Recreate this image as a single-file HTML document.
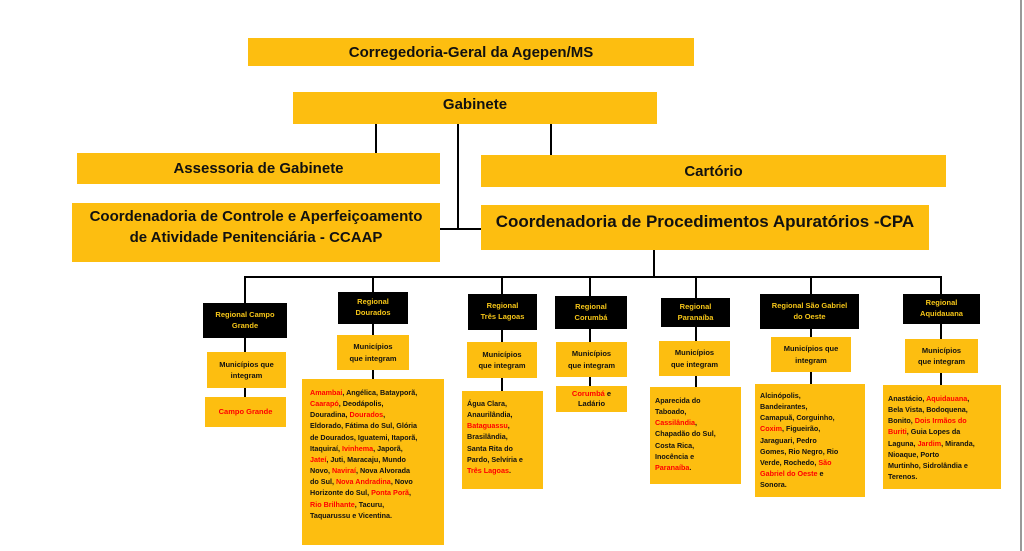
<!DOCTYPE html>
<html><head><meta charset="utf-8"><style>
body{margin:0;width:1024px;height:551px;background:#fff;position:relative;overflow:hidden;font-family:"Liberation Sans",sans-serif;}
.b{position:absolute;background:#FDBE10;display:flex;align-items:center;justify-content:center;text-align:center;color:#111;box-sizing:border-box;}
.k{position:absolute;background:#000;color:#F5C518;display:flex;align-items:center;justify-content:center;text-align:center;font-size:7.5px;font-weight:bold;line-height:1.45;}
.m{font-size:7.5px;font-weight:bold;line-height:1.5;}
.l{position:absolute;background:#000;}
.t{position:absolute;background:#FDBE10;font-size:7.2px;font-weight:bold;line-height:1.55;padding:4px 0 0 5px;box-sizing:border-box;color:#111;}
.r{color:#f00;}
.big{font-size:15px;font-weight:bold;}
</style></head><body>
<div style="position:absolute;left:1020px;top:0;width:2px;height:551px;background:#999"></div>
<!-- lines -->
<div class="l" style="left:375px;top:124px;width:2px;height:29px"></div>
<div class="l" style="left:457px;top:124px;width:2px;height:106px"></div>
<div class="l" style="left:550px;top:124px;width:2px;height:31px"></div>
<div class="l" style="left:440px;top:228px;width:41px;height:2px"></div>
<div class="l" style="left:653px;top:250px;width:2px;height:27px"></div>
<div class="l" style="left:244px;top:276px;width:698px;height:2px"></div>
<div class="l" style="left:244px;top:276px;width:2px;height:121px"></div>
<div class="l" style="left:372px;top:276px;width:2px;height:103px"></div>
<div class="l" style="left:501px;top:276px;width:2px;height:115px"></div>
<div class="l" style="left:589px;top:276px;width:2px;height:110px"></div>
<div class="l" style="left:695px;top:276px;width:2px;height:111px"></div>
<div class="l" style="left:810px;top:276px;width:2px;height:108px"></div>
<div class="l" style="left:940px;top:276px;width:2px;height:109px"></div>
<!-- top boxes -->
<div class="b big" style="left:248px;top:38px;width:446px;height:28px">Corregedoria-Geral da Agepen/MS</div>
<div class="b big" style="left:293px;top:92px;width:364px;height:32px;align-items:flex-start;padding-top:4px">Gabinete</div>
<div class="b big" style="left:77px;top:153px;width:363px;height:31px">Assessoria de Gabinete</div>
<div class="b big" style="left:481px;top:155px;width:465px;height:32px">Cartório</div>
<div class="b big" style="left:72px;top:203px;width:368px;height:59px;line-height:1.4;align-items:flex-start;padding-top:3px">Coordenadoria de Controle e Aperfeiçoamento<br>de Atividade Penitenciária - CCAAP</div>
<div class="b" style="left:481px;top:205px;width:448px;height:45px;font-size:17px;font-weight:bold;align-items:flex-start;padding-top:7px">Coordenadoria de Procedimentos Apuratórios -CPA</div>
<!-- regionals -->
<div class="k" style="left:203px;top:303px;width:84px;height:35px">Regional Campo<br>Grande</div>
<div class="k" style="left:338px;top:292px;width:70px;height:32px">Regional<br>Dourados</div>
<div class="k" style="left:468px;top:294px;width:69px;height:36px">Regional<br>Três Lagoas</div>
<div class="k" style="left:555px;top:296px;width:72px;height:33px">Regional<br>Corumbá</div>
<div class="k" style="left:661px;top:298px;width:69px;height:29px">Regional<br>Paranaíba</div>
<div class="k" style="left:760px;top:294px;width:99px;height:35px">Regional São Gabriel<br>do Oeste</div>
<div class="k" style="left:903px;top:294px;width:77px;height:30px">Regional<br>Aquidauana</div>
<!-- municipios -->
<div class="b m" style="left:207px;top:352px;width:79px;height:36px">Municípios que<br>integram</div>
<div class="b m" style="left:337px;top:335px;width:72px;height:35px">Municípios<br>que integram</div>
<div class="b m" style="left:467px;top:342px;width:70px;height:36px">Municípios<br>que integram</div>
<div class="b m" style="left:556px;top:342px;width:71px;height:35px">Municípios<br>que integram</div>
<div class="b m" style="left:659px;top:341px;width:71px;height:35px">Municípios<br>que integram</div>
<div class="b m" style="left:771px;top:337px;width:80px;height:35px">Municípios que<br>integram</div>
<div class="b m" style="left:905px;top:339px;width:73px;height:34px">Municípios<br>que integram</div>
<!-- lists -->
<div class="b m r" style="left:205px;top:397px;width:81px;height:30px">Campo Grande</div>
<div class="t" style="left:302px;top:379px;width:142px;height:166px;padding:8px 0 0 8px"><span class="r">Amambai</span>, Angélica, Batayporã,<br><span class="r">Caarapó</span>, Deodápolis,<br>Douradina, <span class="r">Dourados</span>,<br>Eldorado, Fátima do Sul, Glória<br>de Dourados, Iguatemi, Itaporã,<br>Itaquiraí, <span class="r">Ivinhema</span>, Japorã,<br><span class="r">Jateí</span>, Juti, Maracaju, Mundo<br>Novo, <span class="r">Naviraí</span>, Nova Alvorada<br>do Sul, <span class="r">Nova Andradina</span>, Novo<br>Horizonte do Sul, <span class="r">Ponta Porã</span>,<br><span class="r">Rio Brilhante</span>, Tacuru,<br>Taquarussu e Vicentina.</div>
<div class="t" style="left:462px;top:391px;width:81px;height:98px;padding-top:7px">Água Clara,<br>Anaurilândia,<br><span class="r">Bataguassu</span>,<br>Brasilândia,<br>Santa Rita do<br>Pardo, Selvíria e<br><span class="r">Três Lagoas</span>.</div>
<div class="b m" style="left:556px;top:386px;width:71px;height:26px;line-height:1.4"><span><span class="r">Corumbá</span> e<br>Ladário</span></div>
<div class="t" style="left:650px;top:387px;width:91px;height:97px;padding-top:8px">Aparecida do<br>Taboado,<br><span class="r">Cassilândia</span>,<br>Chapadão do Sul,<br>Costa Rica,<br>Inocência e<br><span class="r">Paranaíba</span>.</div>
<div class="t" style="left:755px;top:384px;width:110px;height:113px;padding-top:6px">Alcinópolis,<br>Bandeirantes,<br>Camapuã, Corguinho,<br><span class="r">Coxim</span>, Figueirão,<br>Jaraguari, Pedro<br>Gomes, Rio Negro, Rio<br>Verde, Rochedo, <span class="r">São<br>Gabriel do Oeste</span> e<br>Sonora.</div>
<div class="t" style="left:883px;top:385px;width:118px;height:104px;padding-top:8px">Anastácio, <span class="r">Aquidauana</span>,<br>Bela Vista, Bodoquena,<br>Bonito, <span class="r">Dois Irmãos do<br>Buriti</span>, Guia Lopes da<br>Laguna, <span class="r">Jardim</span>, Miranda,<br>Nioaque, Porto<br>Murtinho, Sidrolândia e<br>Terenos.</div>
</body></html>
